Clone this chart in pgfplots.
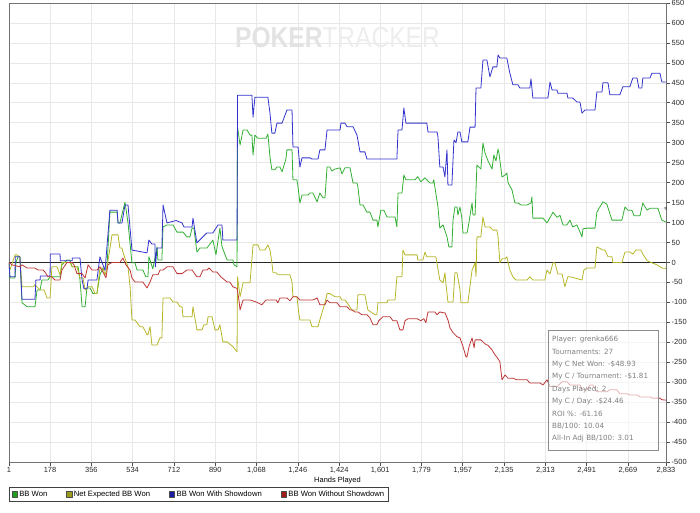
\documentclass[border=0pt]{standalone}
\usepackage{pgfplots}
\pgfplotsset{compat=1.18}
\usepackage{fontspec}
\setmainfont{Liberation Sans}
\newfontfamily\dejavu{DejaVu Sans}
\definecolor{cgreen}{RGB}{50,175,50}
\definecolor{cyellow}{RGB}{182,182,40}
\definecolor{cblue}{RGB}{50,50,205}
\definecolor{cred}{RGB}{190,55,55}
\definecolor{lgreen}{RGB}{30,160,30}
\definecolor{lyellow}{RGB}{156,156,28}
\definecolor{lblue}{RGB}{28,28,160}
\definecolor{lred}{RGB}{160,28,28}
\newcommand{\legsq}[1]{\draw[fill=#1,draw=black!70,line width=0.4bp] (0bp,-2.6bp) rectangle (5.2bp,2.6bp);}
\begin{document}
\begin{tikzpicture}
\begin{axis}[
  at={(0,0)}, anchor=south west,
  scale only axis, width=657bp, height=459bp,
  xmin=1, xmax=2833, ymin=-500, ymax=650,
  xtick={1,178,356,534,712,890,1068,1246,1424,1601,1779,1957,2135,2313,2491,2669,2833},
  ytick={-500,-450,...,650},
  xtick pos=bottom, ytick pos=right, yticklabel pos=right,
  tick align=outside, major tick length=4bp,
  scaled ticks=false,
  /pgf/number format/assume math mode=true,
  /pgf/number format/1000 sep={,},
  grid=major, grid style={black!9, line width=0.6bp},
  axis line style={black!55, line width=0.8bp},
  tick style={black!70, line width=0.6bp},
  ticklabel style={font=\fontsize{7.5}{9}\selectfont, text=black!85},
  xticklabel style={inner sep=1.5bp},
  yticklabel style={inner sep=1.5bp},
  extra y ticks={0}, extra y tick labels={},
  extra tick style={grid style={black!85, line width=0.8bp}},
  xlabel={Hands Played},
  xlabel style={at={(axis description cs:0.5,0)}, anchor=center, yshift=-19bp, font=\fontsize{7.5}{9}\selectfont},
  legend columns=4, legend cell align=left,
  legend style={at={(axis description cs:0,0)}, anchor=north west, yshift=-25bp,
    draw=black!75, line width=0.5bp, font=\fontsize{7.7}{9}\selectfont,
    inner xsep=2.5bp, inner ysep=1.5bp,
    /tikz/every even column/.append style={column sep=17bp}},
  every axis plot/.append style={line width=0.8bp, mark=none, line join=round},
]
\node[inner sep=0pt, xscale=0.85, font=\fontsize{29}{29}\selectfont] at (rel axis cs:0.5,0.924)
  {\textcolor{black!11}{\bfseries POKER}\textcolor{black!7}{TRACKER}};

% BB Won (green)
\addplot[cgreen, legend image code/.code={\legsq{lgreen}}] coordinates {
(1,0)(5,-39)(27,-39)(31,0)(40,14)(48,14)(57,-101)(79,-111)(113,-111)(122,-69)(135,-69)(143,-44)(169,-44)(178,-36)(221,-36)(229,-6)(251,6)(264,6)(273,-11)(299,-11)(307,-44)(316,-111)(329,-111)(337,-64)(350,-64)(363,-78)(380,-78)(393,-31)(406,-14)(423,-14)(436,126)(467,126)(471,99)(479,99)(501,151)(514,99)(531,-1)(544,-1)(553,-19)(578,-19)(591,-36)(600,-36)(604,14)(621,-16)(639,39)(643,6)(660,6)(665,89)(682,94)(708,94)(725,76)(751,76)(768,64)(781,64)(790,86)(798,86)(811,26)(824,36)(854,36)(880,56)(893,19)(910,86)(919,40)(941,6)(966,6)(971,-6)(984,-11)(986,339)(997,294)(1010,332)(1027,332)(1040,319)(1048,319)(1053,269)(1061,319)(1074,311)(1109,311)(1117,322)(1126,264)(1134,232)(1147,232)(1156,239)(1169,239)(1178,227)(1195,260)(1199,282)(1221,282)(1225,207)(1242,207)(1247,189)(1255,149)(1264,169)(1290,169)(1298,174)(1311,174)(1329,152)(1341,174)(1354,162)(1363,162)(1372,239)(1384,239)(1393,229)(1406,234)(1428,237)(1436,222)(1449,237)(1471,237)(1484,199)(1501,199)(1505,189)(1514,144)(1527,144)(1544,126)(1557,126)(1570,106)(1587,106)(1591,89)(1604,131)(1617,131)(1630,114)(1665,114)(1673,89)(1678,174)(1695,174)(1703,219)(1712,207)(1751,207)(1763,215)(1776,202)(1794,212)(1802,207)(1815,199)(1828,199)(1832,207)(1850,139)(1858,86)(1872,94)(1889,64)(1897,39)(1910,39)(1915,106)(1923,139)(1932,139)(1936,119)(1945,139)(1953,111)(1958,74)(1975,74)(1979,84)(1997,149)(2001,119)(2010,119)(2018,244)(2035,234)(2044,299)(2053,274)(2066,254)(2083,234)(2091,269)(2100,254)(2109,284)(2113,274)(2126,214)(2139,219)(2147,224)(2152,200)(2169,182)(2182,149)(2195,149)(2208,144)(2234,144)(2251,149)(2255,164)(2259,111)(2303,111)(2320,99)(2346,126)(2363,113)(2376,118)(2389,94)(2406,94)(2419,106)(2431,89)(2449,94)(2471,64)(2475,84)(2492,86)(2527,86)(2535,126)(2561,152)(2578,146)(2600,106)(2643,106)(2656,139)(2669,131)(2686,131)(2695,117)(2721,117)(2733,149)(2751,131)(2764,136)(2798,136)(2815,106)(2833,101)
};
\addlegendentry{BB Won}

% Net Expected BB Won (yellow)
\addplot[cyellow, legend image code/.code={\legsq{lyellow}}] coordinates {
(1,0)(5,-19)(27,19)(35,19)(48,14)(57,-61)(105,-61)(113,-56)(135,-69)(152,-69)(165,-89)(178,-89)(186,-11)(208,-11)(221,-31)(229,0)(264,0)(273,-11)(294,-11)(307,-39)(320,-39)(329,-69)(342,-61)(359,-61)(372,-78)(380,-78)(393,-14)(406,-14)(415,-31)(423,-14)(445,69)(471,69)(479,36)(488,36)(492,26)(514,-11)(523,-61)(531,-144)(544,-144)(566,-161)(578,-161)(596,-181)(600,-181)(609,-161)(617,-207)(639,-207)(652,-189)(660,-189)(665,-89)(695,-89)(708,-99)(725,-99)(738,-111)(747,-111)(751,-136)(790,-136)(794,-111)(811,-169)(833,-169)(841,-156)(854,-156)(859,-136)(876,-136)(889,-169)(902,-169)(910,-156)(923,-199)(941,-199)(966,-211)(984,-224)(986,-36)(997,-86)(1010,-51)(1040,-51)(1053,44)(1074,44)(1083,31)(1104,31)(1117,44)(1126,31)(1134,0)(1139,-26)(1152,-26)(1160,-31)(1212,-31)(1221,-49)(1225,-86)(1242,-86)(1251,-131)(1255,-144)(1298,-144)(1307,-161)(1333,-161)(1341,-144)(1363,-101)(1372,-78)(1384,-78)(1406,-86)(1428,-86)(1436,-94)(1449,-94)(1462,-104)(1479,-119)(1501,-119)(1505,-81)(1535,-81)(1548,-119)(1578,-131)(1587,-131)(1591,-101)(1630,-101)(1634,-94)(1665,-94)(1673,-36)(1695,-36)(1699,31)(1708,19)(1760,19)(1763,6)(1785,6)(1794,26)(1802,14)(1841,14)(1858,-44)(1872,-51)(1880,-26)(1884,-51)(1893,-99)(1915,-99)(1923,-26)(1932,-26)(1945,-69)(1949,-101)(1979,-101)(1997,-19)(2010,-1)(2014,-36)(2018,64)(2035,64)(2044,114)(2053,89)(2074,89)(2087,81)(2104,81)(2109,64)(2117,-1)(2126,9)(2139,9)(2147,14)(2160,-19)(2173,-36)(2186,-44)(2234,-44)(2246,-36)(2259,-44)(2311,-44)(2320,-19)(2333,-29)(2346,-1)(2354,-1)(2367,-29)(2385,-29)(2397,-61)(2410,-36)(2419,-36)(2453,-41)(2471,-44)(2479,-19)(2492,-14)(2527,-14)(2535,39)(2561,31)(2570,31)(2583,14)(2600,14)(2604,0)(2643,0)(2656,26)(2677,26)(2690,21)(2703,31)(2725,31)(2733,21)(2751,5)(2768,0)(2794,-6)(2815,-14)(2833,-15)
};
\addlegendentry{Net Expected BB Won}

% BB Won With Showdown (blue)
\addplot[cblue, legend image code/.code={\legsq{lblue}}] coordinates {
(1,0)(5,-36)(27,-36)(28,14)(48,14)(57,-92)(113,-92)(117,-44)(135,-44)(136,-34)(178,-34)(179,21)(221,21)(222,4)(273,4)(274,11)(307,11)(316,-44)(324,-66)(337,-66)(342,-44)(380,-44)(393,14)(415,-20)(436,131)(467,131)(471,99)(488,99)(501,144)(514,144)(531,31)(596,24)(604,56)(617,46)(630,46)(632,-11)(639,36)(660,36)(665,144)(682,99)(721,105)(747,99)(755,89)(790,89)(794,111)(811,49)(854,74)(880,74)(902,94)(919,94)(923,56)(984,56)(986,419)(1048,419)(1053,364)(1061,414)(1117,414)(1126,374)(1134,324)(1147,324)(1156,349)(1178,349)(1199,382)(1221,382)(1225,289)(1247,289)(1255,239)(1264,262)(1298,262)(1307,259)(1333,259)(1341,282)(1363,282)(1372,332)(1428,332)(1432,349)(1449,349)(1458,340)(1484,340)(1501,319)(1514,277)(1535,277)(1544,259)(1673,259)(1678,332)(1695,332)(1703,387)(1712,349)(1802,349)(1807,327)(1846,327)(1850,315)(1858,239)(1872,239)(1880,214)(1889,282)(1893,194)(1910,194)(1919,307)(1928,300)(1936,327)(1945,327)(1953,302)(1979,302)(1988,339)(2010,339)(2014,437)(2035,437)(2044,507)(2061,507)(2074,465)(2087,490)(2104,490)(2109,520)(2117,512)(2147,512)(2160,474)(2173,445)(2195,445)(2203,437)(2246,437)(2251,460)(2255,437)(2259,412)(2324,412)(2333,452)(2342,432)(2363,432)(2367,424)(2406,424)(2410,412)(2431,412)(2449,402)(2462,402)(2471,374)(2484,382)(2527,382)(2535,427)(2557,427)(2561,450)(2583,450)(2591,420)(2634,420)(2647,440)(2677,440)(2690,462)(2708,462)(2716,437)(2729,437)(2733,462)(2764,462)(2772,474)(2807,474)(2815,452)(2833,452)
};
\addlegendentry{BB Won With Showdown}

% BB Won Without Showdown (red)
\addplot[cred, legend image code/.code={\legsq{lred}}] coordinates {
(1,0)(14,-6)(48,-11)(57,-6)(79,-14)(113,-14)(126,-19)(148,-19)(156,-24)(169,-36)(186,-36)(199,-44)(221,-44)(229,-19)(251,0)(273,0)(281,-6)(294,-28)(316,-28)(329,-39)(342,-6)(359,-19)(380,-19)(393,-11)(406,-24)(419,-39)(427,-6)(445,0)(479,0)(492,11)(505,-6)(523,-19)(531,-39)(544,-49)(578,-49)(596,-64)(609,-49)(621,-31)(643,-31)(652,-19)(665,-19)(682,-11)(708,-11)(725,-28)(747,-28)(768,-19)(790,-19)(811,-36)(824,-36)(837,-19)(854,-19)(863,-14)(880,-24)(897,-24)(914,-36)(941,-49)(953,-49)(966,-61)(984,-65)(992,-94)(997,-119)(1010,-94)(1040,-94)(1066,-99)(1091,-106)(1109,-94)(1152,-94)(1160,-101)(1169,-89)(1199,-89)(1212,-96)(1225,-86)(1242,-86)(1255,-94)(1311,-94)(1329,-89)(1341,-106)(1363,-106)(1372,-94)(1384,-101)(1415,-101)(1428,-111)(1458,-111)(1471,-119)(1479,-119)(1492,-124)(1505,-124)(1522,-131)(1544,-131)(1557,-139)(1570,-156)(1587,-156)(1595,-146)(1613,-136)(1643,-136)(1656,-146)(1673,-146)(1686,-169)(1699,-169)(1708,-146)(1721,-141)(1760,-141)(1776,-146)(1789,-141)(1798,-151)(1807,-124)(1837,-124)(1846,-131)(1858,-124)(1872,-126)(1880,-126)(1893,-144)(1902,-164)(1915,-176)(1932,-186)(1945,-189)(1958,-211)(1971,-237)(1975,-237)(1984,-211)(1997,-189)(2006,-214)(2010,-194)(2035,-194)(2053,-204)(2066,-208)(2083,-219)(2096,-232)(2104,-237)(2117,-249)(2126,-294)(2139,-282)(2152,-290)(2173,-290)(2190,-294)(2234,-294)(2246,-302)(2290,-302)(2303,-307)(2320,-294)(2333,-311)(2363,-311)(2385,-299)(2406,-299)(2419,-307)(2462,-307)(2471,-319)(2492,-319)(2505,-307)(2518,-307)(2535,-324)(2578,-324)(2591,-319)(2621,-319)(2634,-329)(2665,-329)(2677,-332)(2708,-332)(2721,-337)(2764,-337)(2777,-340)(2807,-340)(2815,-344)(2833,-345)
};
\addlegendentry{BB Won Without Showdown}

\draw[black!45, line width=0.8bp, fill=white, fill opacity=0.6]
  (rel axis cs:0.8204,0.0261) rectangle (rel axis cs:0.9878,0.2876);
\node[anchor=north west, align=left, inner sep=0pt, text=black!50,
  font=\dejavu\fontsize{7.2}{12.46}\selectfont] at (rel axis cs:0.8265,0.2745)
  {Player: grenka666\\Tournaments: 27\\My C Net Won: -\$48.93\\My C / Tournament: -\$1.81\\Days Played: 2\\My C / Day: -\$24.46\\ROI \%: -61.16\\BB/100: 10.04\\All-In Adj BB/100: 3.01};
\node[font=\fontsize{6}{7}\selectfont, rotate=90, text=black!80] at (rel axis cs:1,0.5) [xshift=24bp] {\#};
\end{axis}
\pgfresetboundingbox
\path[use as bounding box] (-9bp,-51bp) rectangle (691bp,462bp);
\end{tikzpicture}
\end{document}
